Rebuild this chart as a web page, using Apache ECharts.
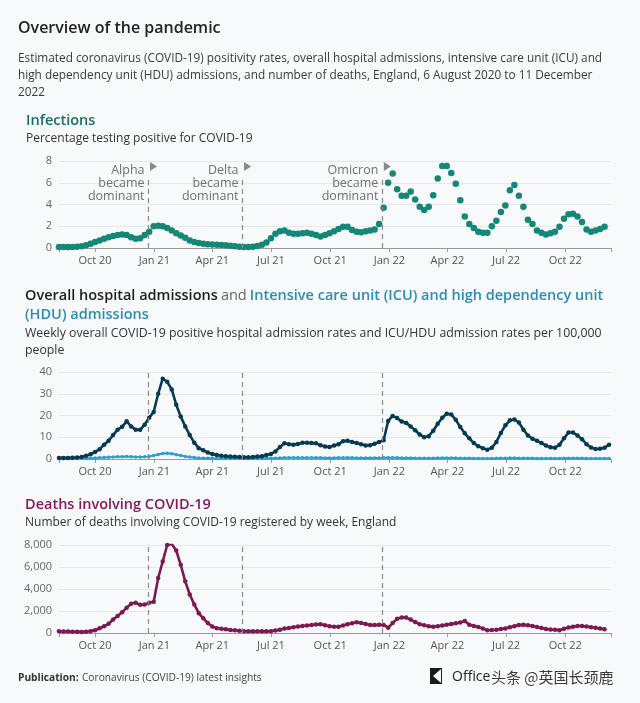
<!DOCTYPE html>
<html>
<head>
<meta charset="utf-8">
<script src="https://cdn.jsdelivr.net/npm/echarts@6/dist/echarts.min.js"></script>
<style>
html,body{margin:0;padding:0;background:#f8f9fa;}
#c{width:640px;height:703px;}
</style>
</head>
<body>
<div id="c"></div>
<script>
// ---- data ----
const WEEK_START = '2020-08-06';
const AXIS_MIN = '2020-08-06';
const AXIS_MAX = '2022-12-11';
const TICK_DATES = ['2020-10-01','2021-01-01','2021-04-01','2021-07-01','2021-10-01','2022-01-01','2022-04-01','2022-07-01','2022-10-01'];
const TICK_LABELS = ['Oct 20','Jan 21','Apr 21','Jul 21','Oct 21','Jan 22','Apr 22','Jul 22','Oct 22'];
const VARIANT_NAMES = ['Alpha','Delta','Omicron'];
const VARIANT_DATES = ['2020-12-23','2021-05-18','2021-12-21'];

// percentage testing positive (weekly)
const INFECTIONS = [0.1,0.1,0.1,0.1,0.12, 0.15,0.25,0.4,0.55,0.7, 0.85,1.0,1.1,1.2,1.25,
 1.2,1.0,0.85,0.9,1.2, 1.5,2.0,2.05,2.0,1.85, 1.6,1.35,1.15,0.95,0.7,
 0.55,0.45,0.4,0.35,0.32, 0.3,0.28,0.25,0.2,0.15, 0.12,0.1,0.1,0.12,0.18,
 0.3,0.5,0.9,1.3,1.55, 1.6,1.4,1.3,1.3,1.35, 1.4,1.3,1.2,1.05,1.2,
 1.35,1.55,1.75,1.95,1.95, 1.65,1.5,1.45,1.55,1.6, 1.7,2.2,3.7,6.0,6.85,
 5.4,4.8,4.8,5.2,4.45, 3.8,3.5,3.8,4.85,6.4, 7.55,7.55,6.9,5.9,4.4,
 2.9,2.2,1.85,1.5,1.4, 1.4,2.0,2.5,3.3,3.9, 5.3,5.8,4.8,3.8,2.6,
 2.2,1.6,1.4,1.25,1.35, 1.5,1.95,2.7,3.1,3.15, 2.9,2.4,1.7,1.5,1.6,
 1.75,1.95];

// overall hospital admissions per 100,000 (weekly)
const HOSPITAL = [0.5,0.5,0.5,0.6,0.7, 0.9,1.5,2.2,3.2,4.5, 6.6,8.4,11,13.5,14.8,
 17.3,15,13.5,13.4,15.8, 19,21.6,30,36.9,35.5, 32,25,19.5,15,11,
 7.5,5,4,3,2.3, 1.8,1.5,1.3,1.1,1.0, 0.9,0.8,0.8,0.9,1.1,
 1.3,1.8,2.3,3.5,5.5, 7.2,6.8,6.6,6.9,7.5, 7.5,7.3,7.2,6.3,5.7,
 5.5,6.2,6.8,8.2,8.4, 7.8,7.4,6.8,6.2,6.3, 7.0,7.8,8.6,17.5,19.8,
 18.8,17.2,16.6,15,13.2, 11.3,10,10.5,13,16.2, 19,20.8,20.5,18,14.7,
 11.8,9.5,7.3,5.9,5.0, 4.3,5.2,7.8,12,15.5, 17.8,18.2,16.8,13.5,10.8,
 9.3,8.4,7.3,6.2,5.4, 5.2,6.5,9.5,12.2,12.2, 10.8,9.1,6.8,5.3,4.6,
 4.7,5.2,6.6];

// ICU/HDU admissions per 100,000 (weekly)
const ICU = [0.2,0.2,0.2,0.2,0.2, 0.3,0.3,0.4,0.5,0.6, 0.7,0.8,0.9,1.0,1.0,
 1.1,1.0,0.9,0.9,1.0, 1.2,1.6,2.1,2.5,2.6, 2.4,2.0,1.6,1.2,0.9,
 0.7,0.5,0.4,0.35,0.3, 0.25,0.2,0.2,0.2,0.2, 0.2,0.2,0.2,0.2,0.2,
 0.25,0.3,0.35,0.4,0.5, 0.6,0.6,0.6,0.6,0.6, 0.6,0.6,0.6,0.55,0.5,
 0.5,0.5,0.55,0.6,0.6, 0.55,0.5,0.5,0.45,0.45, 0.5,0.5,0.55,0.6,0.6,
 0.55,0.5,0.5,0.45,0.4, 0.4,0.35,0.35,0.4,0.45, 0.5,0.5,0.5,0.45,0.4,
 0.35,0.3,0.25,0.25,0.2, 0.2,0.25,0.3,0.35,0.4, 0.45,0.45,0.4,0.35,0.3,
 0.3,0.25,0.25,0.2,0.2, 0.2,0.25,0.3,0.35,0.35, 0.3,0.3,0.25,0.2,0.2,
 0.2,0.2,0.25];

// deaths involving COVID-19 registered by week
const DEATHS = [150,140,130,120,110, 100,120,170,260,430, 610,830,1230,1550,1880,
 2300,2650,2750,2560,2580, 2740,2850,5000,6500,8000, 8090,7500,6200,4700,3500,
 2600,1800,1330,910,580, 430,390,330,270,240, 200,160,150,150,150,
 150,150,170,220,300, 400,460,520,580,630, 680,720,770,790,700,
 620,570,560,680,790, 880,980,920,820,720, 720,740,730,480,900,
 1300,1420,1400,1220,1000, 800,700,620,560,620, 690,760,820,880,950,
 1100,760,640,550,400, 250,270,300,360,420, 520,620,720,740,700,
 630,540,450,370,320, 290,260,380,490,570, 640,630,590,520,470,
 400,350];

// ---- build ----
const DAY = 86400000;
const t0 = Date.parse(WEEK_START);
const weekDate = i => t0 + i * 7 * DAY;
const toPairs = arr => arr.map((v, i) => [weekDate(i), v]);
const tickTs = TICK_DATES.map(d => Date.parse(d));
const axisMin = Date.parse(AXIS_MIN), axisMax = Date.parse(AXIS_MAX);
const varTs = VARIANT_DATES.map(d => Date.parse(d));

const FONT = '"Open Sans", "Noto Sans", sans-serif';
const GRID_LEFT = 59, GRID_RIGHT = 29;

function xAxisFor(idx) {
  return {
    type: 'value', gridIndex: idx, min: axisMin, max: axisMax, scale: true,
    axisLine: { show: true, lineStyle: { color: '#9a9a9a', width: 1 } },
    axisTick: { show: true, length: 4, lineStyle: { color: '#9a9a9a' },
      customValues: [axisMin].concat(tickTs, [axisMax]) },
    axisLabel: { color: '#555', fontSize: 11, fontFamily: FONT, margin: 7,
      customValues: tickTs, showMinLabel: true, showMaxLabel: true,
      formatter: v => { const k = tickTs.indexOf(v); return k >= 0 ? TICK_LABELS[k] : ''; } },
    splitLine: { show: false }
  };
}
function yAxisFor(idx, max, interval, fmt) {
  return {
    type: 'value', gridIndex: idx, min: 0, max: max, interval: interval,
    axisLine: { show: false }, axisTick: { show: false },
    axisLabel: { color: '#666', fontSize: 11, fontFamily: FONT, margin: 7, formatter: fmt },
    splitLine: { lineStyle: { color: '#e6e8ea', width: 1 } }
  };
}

const dashStyle = { color: '#8a8a8a', type: [5, 4], width: 1.2 };

const infMarkLine = {
  silent: true, symbol: 'none', label: { show: false }, lineStyle: dashStyle,
  data: varTs.map(t => [{ coord: [t, 0] }, { coord: [t, 6.6] }])
};
const fullMarkLine = {
  silent: true, symbol: 'none', label: { show: false }, lineStyle: dashStyle,
  data: varTs.map(t => ({ xAxis: t }))
};
const infMarkPoint = {
  silent: true,
  data: varTs.map((t, k) => ({
    coord: [t, 7.5], symbol: 'path://M0,0 L10,5 L0,10 Z', symbolSize: [7, 9], symbolOffset: [5, 0],
    itemStyle: { color: '#8a8a8a' },
    label: { show: true, position: 'inside', align: 'right', verticalAlign: 'top',
      offset: [-9, -3], color: '#707070', fontSize: 12.5, fontFamily: FONT, lineHeight: 13,
      formatter: VARIANT_NAMES[k] + '\nbecame\ndominant' }
  }))
};

const chart = echarts.init(document.getElementById('c'), null, { renderer: 'canvas' });
const heading = (x, y, text, size, weight, color) => ({
  type: 'text', x: x, y: y, silent: true,
  style: { text: text, fontSize: size, fontWeight: weight, fontFamily: FONT, fill: color, verticalAlign: 'middle' }
});

chart.setOption({
  animation: false,
  backgroundColor: '#f8f9fa',
  grid: [
    { left: GRID_LEFT, right: GRID_RIGHT, top: 161, height: 87 },
    { left: GRID_LEFT, right: GRID_RIGHT, top: 372, height: 87 },
    { left: GRID_LEFT, right: GRID_RIGHT, top: 545, height: 88 }
  ],
  xAxis: [xAxisFor(0), xAxisFor(1), xAxisFor(2)],
  yAxis: [
    yAxisFor(0, 8, 2),
    yAxisFor(1, 40, 10),
    yAxisFor(2, 8000, 2000, v => v.toLocaleString('en-GB'))
  ],
  series: [
    { name: 'Infections', type: 'scatter', xAxisIndex: 0, yAxisIndex: 0, data: toPairs(INFECTIONS),
      symbolSize: 6.5, itemStyle: { color: '#148777', opacity: 1 },
      markLine: infMarkLine, markPoint: infMarkPoint },
    { name: 'ICU/HDU admissions', type: 'line', xAxisIndex: 1, yAxisIndex: 1, data: toPairs(ICU),
      symbol: 'circle', symbolSize: 3.5, showSymbol: true, lineStyle: { color: '#2aa1cc', width: 2 },
      itemStyle: { color: '#2aa1cc' } },
    { name: 'Overall hospital admissions', type: 'line', xAxisIndex: 1, yAxisIndex: 1, data: toPairs(HOSPITAL),
      symbol: 'circle', symbolSize: 4.5, showSymbol: true, lineStyle: { color: '#073a52', width: 2.6 },
      itemStyle: { color: '#073a52' }, markLine: fullMarkLine, z: 3 },
    { name: 'Deaths', type: 'line', xAxisIndex: 2, yAxisIndex: 2, data: toPairs(DEATHS),
      symbol: 'circle', symbolSize: 4.5, showSymbol: true, lineStyle: { color: '#7c1a50', width: 2.6 },
      itemStyle: { color: '#7c1a50' }, markLine: fullMarkLine }
  ],
  graphic: [
    heading(18, 28, 'Overview of the pandemic', 16, 600, '#222'),
    { type: 'text', x: 18, y: 58, silent: true,
      style: { text: 'Estimated coronavirus (COVID-19) positivity rates, overall hospital admissions, intensive care unit (ICU) and\nhigh dependency unit (HDU) admissions, and number of deaths, England, 6 August 2020 to 11 December\n2022',
        fontSize: 11.8, fontFamily: FONT, fill: '#3a3a3a', lineHeight: 17, verticalAlign: 'top', y: -8 } },
    heading(26, 121, 'Infections', 14.5, 600, '#176f66'),
    heading(26, 139, 'Percentage testing positive for COVID-19', 12, 400, '#333'),
    { type: 'text', x: 25, y: 288, silent: true,
      style: { text: '{a|Overall hospital admissions} {b|and} {c|Intensive care unit (ICU) and high dependency unit}\n{c|(HDU) admissions}',
        fontFamily: FONT, lineHeight: 19, verticalAlign: 'top', y: -2,
        rich: {
          a: { fontSize: 14.5, fontWeight: 600, fill: '#1d1d1d', fontFamily: FONT, lineHeight: 19 },
          b: { fontSize: 14.5, fontWeight: 400, fill: '#666', fontFamily: FONT, lineHeight: 19 },
          c: { fontSize: 14.5, fontWeight: 600, fill: '#2b8db3', fontFamily: FONT, lineHeight: 19 }
        } } },
    { type: 'text', x: 25, y: 333, silent: true,
      style: { text: 'Weekly overall COVID-19 positive hospital admission rates and ICU/HDU admission rates per 100,000\npeople',
        fontSize: 12.3, fontFamily: FONT, fill: '#333', lineHeight: 17, verticalAlign: 'top', y: -8 } },
    heading(25, 505, 'Deaths involving COVID-19', 14.5, 600, '#841a57'),
    heading(25, 523, 'Number of deaths involving COVID-19 registered by week, England', 12, 400, '#333'),
    { type: 'text', x: 18, y: 678, silent: true,
      style: { text: '{b|Publication:} {n|Coronavirus (COVID-19) latest insights}', verticalAlign: 'middle',
        rich: { b: { fontSize: 10.2, fontWeight: 700, fill: '#333', fontFamily: FONT },
                n: { fontSize: 10.2, fill: '#444', fontFamily: FONT } } } },
    { type: 'polygon', silent: true, shape: { points: [[430,668],[442,668],[442,684],[430,684]] },
      style: { fill: '#1a1a1a' } },
    { type: 'polygon', silent: true, shape: { points: [[441,669],[433,676],[441,683]] },
      style: { fill: '#f8f9fa' } },
    heading(452, 677, 'Office', 14, 400, '#222'),
    { type: 'text', x: 491, y: 677, silent: true,
      style: { text: '头条 @英国长颈鹿', fontSize: 15, fontFamily: '"Noto Sans CJK SC", sans-serif', fill: '#3a3a3a',
        stroke: '#ffffff', lineWidth: 2, verticalAlign: 'middle' } }
  ]
});
</script>
</body>
</html>
